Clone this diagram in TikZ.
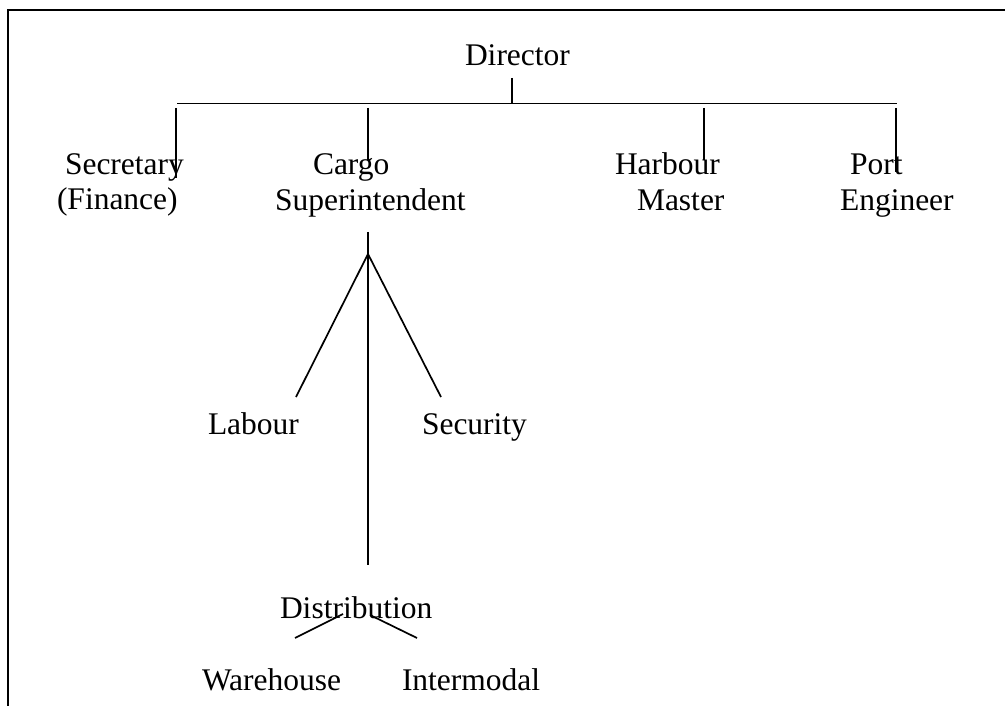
\documentclass[tikz,border=0pt]{standalone}
\usepackage{fontspec}
\setmainfont{Liberation Serif}
\begin{document}
\begin{tikzpicture}[x=1pt,y=-1pt,
  lbl/.style={anchor=base west,inner sep=0pt,outer sep=0pt,font=\fontsize{31.5}{36.5}\selectfont},
  link/.style={line width=1.7pt,line cap=butt},
  frame/.style={line width=2pt}]
\useasboundingbox (0,0) rectangle (1005,706);

% open frame: top and left edges
\coordinate (fTL) at (8,10);
\coordinate (fTR) at (1005,10);
\coordinate (fBL) at (8,706);
\draw[frame] (fTR) -- (fTL) -- (fBL);

% labels
\node[lbl] (dir)   at (465,66)  {Director};
\node[lbl] (sec)   at (65,175)  {Secretary};
\node[lbl] (secb)  at (57,210)  {(Finance)};
\node[lbl] (cargo) at (313,175) {Cargo};
\node[lbl] (cargob) at (275,211) {Superintendent};
\node[lbl] (harb)  at (615,175) {Harbour};
\node[lbl] (harbb) at (637,211) {Master};
\node[lbl] (port)  at (850,175) {Port};
\node[lbl] (portb) at (840,211) {Engineer};
\node[lbl] (lab)   at (208,434) {Labour};
\node[lbl] (secu)  at (422,434) {Security};
\node[lbl] (dist)  at (280,618) {Distribution};
\node[lbl] (ware)  at (202,690) {Warehouse};
\node[lbl] (inter) at (402,690) {Intermodal};

% top level bus
\coordinate (busL) at (177,103.5);
\coordinate (busR) at (897,103.5);
\coordinate (busD) at (512,103.5);
\coordinate (dirT) at (512,78);
\draw[link] (busL) -- (busR);
\draw[link] (dirT) -- (busD);

% drops to the second level
\coordinate (sTop) at (176,108);  \coordinate (sEnd) at (176,178);
\coordinate (cTop) at (368,108);  \coordinate (cEnd) at (368,160);
\coordinate (hTop) at (704,108);  \coordinate (hEnd) at (704,160);
\coordinate (pTop) at (896,108);  \coordinate (pEnd) at (896,172);
\draw[link] (sTop) -- (sEnd);
\draw[link] (cTop) -- (cEnd);
\draw[link] (hTop) -- (hEnd);
\draw[link] (pTop) -- (pEnd);

% cargo superintendent branches
\coordinate (cStem) at (368,232);
\coordinate (apex)  at (368,254);
\coordinate (labT)  at (296,397);
\coordinate (secT)  at (441,397);
\coordinate (distT) at (368,565);
\draw[link] (cStem) -- (distT);
\draw[link] (apex) -- (labT);
\draw[link] (apex) -- (secT);

% distribution branches
\coordinate (dL1) at (343,614); \coordinate (dL2) at (295,638);
\coordinate (dR1) at (370,615); \coordinate (dR2) at (417,638);
\draw[link] (dL1) -- (dL2);
\draw[link] (dR1) -- (dR2);
\end{tikzpicture}
\end{document}
